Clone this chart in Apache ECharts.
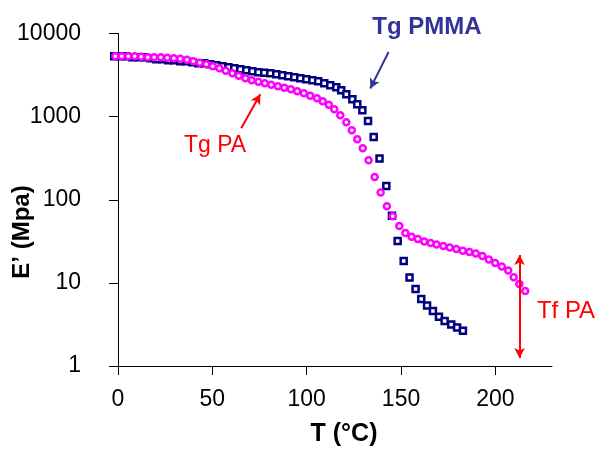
<!DOCTYPE html>
<html>
<head>
<meta charset="utf-8">
<script src="https://cdn.jsdelivr.net/npm/echarts@6/dist/echarts.min.js"></script>
<style>
  html, body { margin: 0; padding: 0; background: #fff; }
  #chart { width: 598px; height: 449px; }
</style>
</head>
<body>
<div id="chart"></div>
<script>
  // storage modulus E' (MPa) vs temperature
  const pmmaT = [-2.0, 1.2, 4.4, 7.6, 10.8, 13.9, 17.1, 20.3, 23.5, 26.7, 29.8, 33.0, 36.2, 39.4, 42.6,
    45.7, 48.9, 52.1, 55.3, 58.5, 61.6, 64.8, 68.0, 71.2, 74.4, 77.5, 80.7, 83.9, 87.1, 90.2,
    93.4, 96.6, 99.8, 103.0, 106.1, 109.3, 112.5, 115.7, 118.3, 121.0, 124.2, 126.8, 129.5, 132.5, 135.5,
    138.6, 142.2, 145.2, 148.2, 151.4, 154.5, 157.7, 160.7, 163.8, 166.9, 170.1, 173.1, 176.6, 179.7, 182.8]
  const pmmaE = [5320, 5320, 5320, 5175, 5175, 5175, 5035, 4897, 4897, 4763, 4763, 4633, 4633, 4507, 4384,
    4384, 4264, 4148, 4035, 3925, 3818, 3713, 3612, 3513, 3417, 3370, 3324, 3233, 3145, 3059,
    2976, 2895, 2816, 2739, 2664, 2521, 2385, 2256, 2076, 1859, 1619, 1410, 1194, 888, 570,
    314, 146, 64.4, 31.8, 18.3, 11.6, 8.42, 6.39, 5.34, 4.58, 3.91, 3.47, 3.15, 2.90, 2.66]

  const paT = [-1.4, 2.0, 5.5, 8.9, 12.3, 15.8, 19.2, 22.7, 26.1, 29.6, 33.0, 36.5, 39.9, 43.3, 46.8,
    50.2, 53.7, 57.1, 60.6, 64.0, 67.5, 70.9, 74.4, 77.8, 81.2, 84.7, 88.1, 91.6, 95.0, 98.5,
    101.9, 105.4, 108.5, 111.7, 114.6, 117.8, 121.0, 123.9, 126.8, 129.7, 132.8, 136.0, 139.2, 142.5, 145.6,
    149.1, 152.3, 155.6, 158.9, 162.3, 165.7, 168.8, 172.4, 175.8, 179.3, 182.7, 186.2, 189.6, 193.1, 196.5,
    199.9, 203.4, 206.8, 209.7, 212.7, 215.8]
  const paE = [5320, 5320, 5320, 5320, 5248, 5175, 5175, 5175, 5105, 5035, 4966, 4831, 4633, 4444, 4264,
    4035, 3818, 3562, 3324, 3102, 2895, 2739, 2626, 2521, 2418, 2318, 2225, 2135, 2020, 1911,
    1783, 1664, 1531, 1390, 1227, 1040, 857, 687, 535, 417, 299, 188, 122, 83.8, 63.5,
    48.2, 39.7, 36.0, 33.6, 31.4, 30.1, 28.9, 27.7, 26.6, 25.5, 24.4, 23.6, 22.5, 21.0, 19.1,
    17.3, 15.7, 14.1, 11.7, 9.68, 7.97]

  const xTicks = [0, 50, 100, 150, 200]

  // annotation arrows, in data units [T, E]
  const tgPmmaArrow = [[143.4, 5995], [133.7, 2177]]
  const tgPaArrow = [[65.3, 726], [75.4, 1859]]
  const tfPaArrow = [[212.8, 21.6], [212.8, 1.25]]

  const zip = (a, b) => a.map((v, i) => [v, b[i]])

  const navy = '#000080'
  const magenta = '#ff00ff'
  const slate = '#333399'
  const red = '#ff0000'
  const font = 'Liberation Sans, Arial, sans-serif'

  const chart = echarts.init(document.getElementById('chart'), null, { renderer: 'canvas' })

  function arrow(pts, color, both) {
    return [
      { coord: pts[0], symbol: both ? 'arrow' : 'none', symbolSize: [8, 10], lineStyle: { color: color, width: 2, type: 'solid' } },
      { coord: pts[1], symbol: 'arrow', symbolSize: [8, 10] }
    ]
  }

  chart.setOption({
    animation: false,
    backgroundColor: '#fff',
    grid: { left: 118, right: 46, top: 33.5, bottom: 83 },
    xAxis: {
      type: 'value',
      min: 0,
      max: 230,
      interval: 50,
      axisLine: { show: true, lineStyle: { color: '#000', width: 1 } },
      axisTick: { show: true, length: 9, customValues: xTicks, lineStyle: { color: '#000' } },
      axisLabel: { customValues: xTicks, margin: 22, color: '#000', fontSize: 23, fontFamily: font },
      splitLine: { show: false }
    },
    yAxis: {
      type: 'log',
      logBase: 10,
      min: 1,
      max: 10000,
      axisLine: { show: true, lineStyle: { color: '#000', width: 1 } },
      axisTick: { show: true, length: 9, lineStyle: { color: '#000' } },
      minorTick: { show: false },
      axisLabel: { margin: 37, color: '#000', fontSize: 23, fontFamily: font, formatter: v => String(Math.round(v)) },
      splitLine: { show: false }
    },
    series: [
      {
        name: 'PMMA',
        type: 'scatter',
        clip: false,
        symbol: 'rect',
        symbolSize: 6,
        itemStyle: { color: '#fff', borderColor: navy, borderWidth: 2.5, opacity: 1 },
        data: zip(pmmaT, pmmaE),
        markLine: {
          silent: true,
          label: { show: false },
          data: [arrow(tgPmmaArrow, slate, false)]
        }
      },
      {
        name: 'PA',
        type: 'scatter',
        clip: false,
        symbol: 'circle',
        symbolSize: 6,
        itemStyle: { color: '#fff', borderColor: magenta, borderWidth: 2.5, opacity: 1 },
        data: zip(paT, paE),
        markLine: {
          silent: true,
          label: { show: false },
          data: [arrow(tgPaArrow, red, false), arrow(tfPaArrow, red, true)]
        }
      }
    ],
    graphic: [
      { type: 'text', x: 22, y: 232, rotation: Math.PI / 2,
        style: { text: 'E’ (Mpa)', fill: '#000', font: 'bold 24px ' + font, align: 'center', verticalAlign: 'middle' } },
      { type: 'text', x: 344, y: 434,
        style: { text: 'T (°C)', fill: '#000', font: 'bold 25px ' + font, align: 'center', verticalAlign: 'middle' } },
      { type: 'text', x: 427, y: 27,
        style: { text: 'Tg PMMA', fill: slate, font: 'bold 24px ' + font, align: 'center', verticalAlign: 'middle' } },
      { type: 'text', x: 215, y: 146,
        style: { text: 'Tg PA', fill: red, font: '23px ' + font, align: 'center', verticalAlign: 'middle' } },
      { type: 'text', x: 566, y: 311,
        style: { text: 'Tf PA', fill: red, font: '24px ' + font, align: 'center', verticalAlign: 'middle' } }
    ]
  })
</script>
</body>
</html>
